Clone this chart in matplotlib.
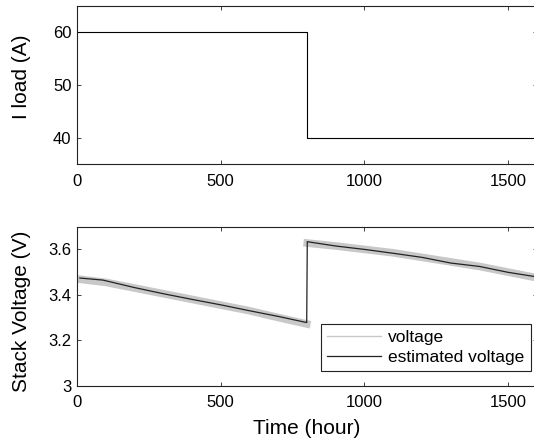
import matplotlib
matplotlib.use("Agg")
import matplotlib.pyplot as plt

plt.rcParams['font.family'] = ['Liberation Sans', 'DejaVu Sans']

# load current profile
t_load = [0, 800, 1600]
i_load = [60, 40, 40]

# measured voltage (trend of the noisy trace), gap at the load step
t_volt = [0, 100, 200, 300, 400, 500, 600, 700, 799, 800, 801, 900, 1000, 1100, 1200, 1300, 1400, 1500, 1600]
volt = [3.47, 3.455, 3.43, 3.405, 3.38, 3.355, 3.33, 3.30, 3.272, float('nan'), 3.628, 3.615, 3.60, 3.585, 3.565, 3.545, 3.525, 3.50, 3.475]

# estimated voltage
t_est = [10, 90, 200, 300, 400, 500, 600, 700, 799, 801, 900, 1000, 1100, 1200, 1300, 1400, 1500, 1600]
v_est = [3.474, 3.465, 3.432, 3.405, 3.38, 3.356, 3.33, 3.305, 3.278, 3.634, 3.615, 3.60, 3.583, 3.565, 3.54, 3.525, 3.499, 3.479]

fig = plt.figure(figsize=(5.34, 4.46), dpi=100)
ax1 = fig.add_axes([0.1442, 0.6316, 0.8614, 0.3556])
ax2 = fig.add_axes([0.1442, 0.1352, 0.8614, 0.3565])

ax1.step(t_load, i_load, where='post', color='black', lw=0.8)
ax1.set_xlim(0, 1600)
ax1.set_ylim(35, 65)
ax1.set_yticks([40, 50, 60])
ax1.set_xticks([0, 500, 1000, 1500])
ax1.set_ylabel('I load (A)', fontsize=15)
ax1.yaxis.set_label_coords(-0.10, 0.55)

ax2.plot(t_volt, volt, color='#c8c8c8', lw=5.5, label='voltage')
ax2.plot(t_est, v_est, color='#222222', lw=0.9, label='estimated voltage')
ax2.set_xlim(0, 1600)
ax2.set_ylim(3, 3.7)
ax2.set_yticks([3, 3.2, 3.4, 3.6])
ax2.set_yticklabels(['3', '3.2', '3.4', '3.6'])
ax2.set_xticks([0, 500, 1000, 1500])
ax2.set_xlabel('Time (hour)', fontsize=15, labelpad=6)
ax2.set_ylabel('Stack Voltage (V)', fontsize=15)
ax2.yaxis.set_label_coords(-0.10, 0.47)

leg = ax2.legend(loc='lower right', bbox_to_anchor=(0.986, 0.094), borderaxespad=0,
                 fontsize=12.5, fancybox=False, edgecolor='#222222', framealpha=1,
                 handlelength=3.1, handletextpad=0.4, borderpad=0.35, labelspacing=0.25)
leg.get_frame().set_linewidth(0.8)
leg.get_lines()[0].set_linewidth(1.0)

for ax in (ax1, ax2):
    ax.tick_params(direction='in', top=True, right=True, length=3.2, width=0.6,
                   labelsize=12, colors='#222222', labelcolor='black')
    ax.tick_params(axis='x', pad=7)
    ax.tick_params(axis='y', pad=4)
    for s in ax.spines.values():
        s.set_linewidth(0.8)
        s.set_color('#222222')

fig.savefig('out.png', dpi=100)
